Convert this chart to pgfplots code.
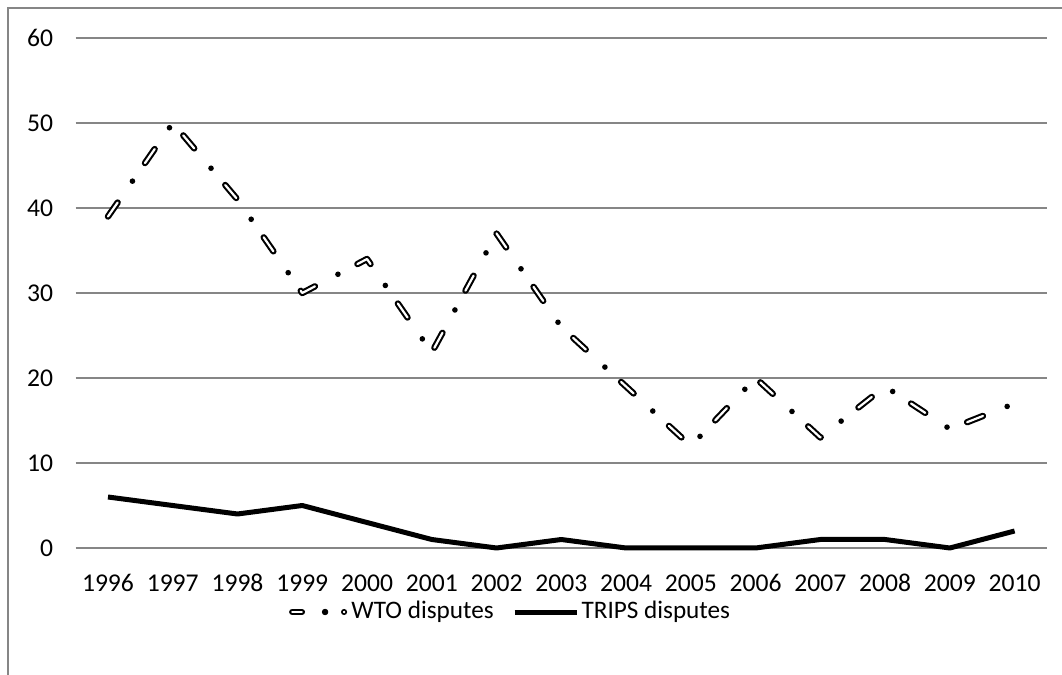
\documentclass[border=0pt]{standalone}
\usepackage{fontspec}
\setmainfont{Carlito}
\usepackage{pgfplots}
\pgfplotsset{compat=1.18}
\definecolor{gridgray}{HTML}{868686}
\begin{document}
\fontsize{12.8}{15}\selectfont
\begin{tikzpicture}
\useasboundingbox (0,0) rectangle (531pt,337.5pt);
\draw[gridgray, line width=1.1pt] (4pt,0) -- (4pt,333.5pt) -- (531pt,333.5pt);
\begin{axis}[
  at={(37.8pt,63.5pt)}, anchor=south west,
  scale only axis, width=485.7pt, height=255pt,
  xmin=1995.5, xmax=2010.5, ymin=0, ymax=60,
  xtick={1996,1997,1998,1999,2000,2001,2002,2003,2004,2005,2006,2007,2008,2009,2010},
  xticklabels={1996,1997,1998,1999,2000,2001,2002,2003,2004,2005,2006,2007,2008,2009,2010},
  ytick={0,10,20,30,40,50,60},
  axis line style={draw=none},
  major tick length=0pt,
  ymajorgrids, grid style={gridgray, line width=1pt},
  tick label style={font=\fontsize{12.8}{15}\selectfont},
  /pgf/number format/assume math mode=true,
  yticklabel style={inner sep=0pt, xshift=-11pt},
  xticklabel style={inner sep=0pt, anchor=base, yshift=-22pt},
  clip=false,
  legend style={at={(0.448,-0.1255)}, anchor=center, draw=none, fill=none,
    legend columns=2, font=\fontsize{12.6}{14}\selectfont, inner sep=0pt,
    nodes={inner sep=1.2pt},
    /tikz/every even column/.append style={column sep=8pt}},
  legend cell align=left,
]
\pgfplotstableread{
year wto trips
1996 39 6
1997 50 5
1998 41 4
1999 30 5
2000 34 3
2001 23 1
2002 37 0
2003 26 1
2004 19 0
2005 12 0
2006 20 0
2007 13 1
2008 19 1
2009 14 0
2010 17 2
}\datatable
% WTO: hollow dashes with dots
\addplot[forget plot, black, line width=3.2pt, line cap=round, line join=round,
  dash pattern=on 8.5pt off 24pt] table[x=year,y=wto] {\datatable};
\addplot[forget plot, white, line width=1.1pt, line cap=round, line join=round,
  dash pattern=on 8.5pt off 24pt] table[x=year,y=wto] {\datatable};
\addplot[forget plot, black, line width=2.8pt, line cap=round,
  dash pattern=on 0pt off 32.5pt, dash phase=11pt] table[x=year,y=wto] {\datatable};
% TRIPS
\addplot[forget plot, black, line width=2.5pt, line join=round] table[x=year,y=trips] {\datatable};
\addlegendimage{legend image code/.code={
  \path[draw=none] (0pt,0pt) -- (30pt,0pt);
  \draw[black, line width=3.2pt, line cap=round] (1.6pt,0pt) -- (6.4pt,0pt);
  \draw[white, line width=1.1pt, line cap=round] (1.6pt,0pt) -- (6.4pt,0pt);
  \fill[black] (18pt,0pt) circle (1.4pt);
  \draw[black, line width=0.8pt] (27.5pt,0pt) circle (1.1pt);
}}
\addlegendentry{WTO disputes}
\addlegendimage{legend image code/.code={
  \draw[black, line width=2.5pt] (0pt,0pt) -- (31pt,0pt);
}}
\addlegendentry{TRIPS disputes}
\end{axis}
\end{tikzpicture}
\end{document}
